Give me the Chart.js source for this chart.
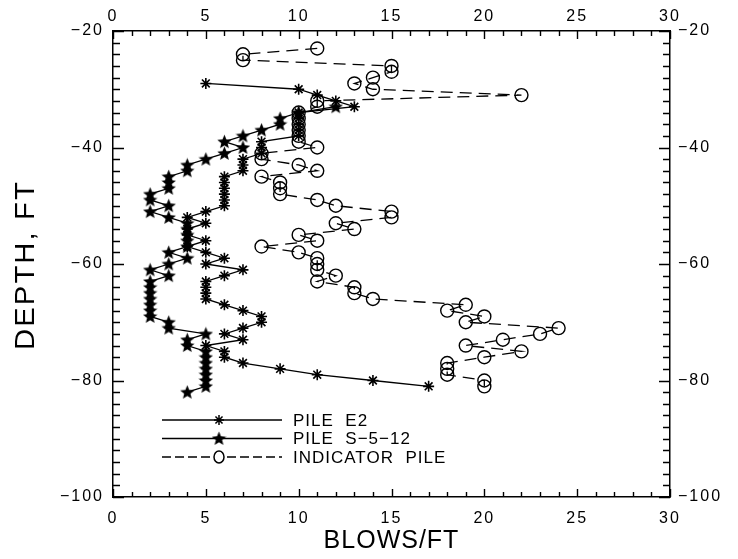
<!DOCTYPE html>
<html>
<head>
<meta charset="utf-8">
<script src="https://cdn.jsdelivr.net/npm/chart.js@4.4.1/dist/chart.umd.min.js"></script>
<style>
  html, body { margin: 0; padding: 0; background: #fff; }
  #c { display: block; }
</style>
</head>
<body>
<canvas id="c" width="738" height="559"></canvas>
<script>
// Blow counts (blows per foot) against depth (ft) for three piles.
const depthE2 = [-29,-30,-31,-32,-33,-34,-35,-36,-37,-38,-39,-40,-41,-42,-43,-44,-45,-46,-47,-48,-49,-50,-51,-52,-53,-54,-55,-56,-57,-58,-59,-60,-61,-62,-63,-64,-65,-66,-67,-68,-69,-70,-71,-72,-73,-74,-75,-76,-77,-78,-79,-80,-81];
const blowsE2 = [5,10,11,12,13, 10,10,10,10,10, 8,8,8,7,7, 7,6,6,6,6, 6,6,5,4,5, 4,4,5,4,5, 6,5,7,6,5, 5,5,5,6,7, 8,8,7,6,7, 5,6,6,7,9, 11,14,17];

const depthS512 = [-33,-34,-35,-36,-37,-38,-39,-40,-41,-42,-43,-44,-45,-46,-47,-48,-49,-50,-51,-52,-53,-54,-55,-56,-57,-58,-59,-60,-61,-62,-63,-64,-65,-66,-67,-68,-69,-70,-71,-72,-73,-74,-75,-76,-77,-78,-79,-80,-81,-82];
const blowsS512 = [12,10,9,9,8, 7,6,7,6,5, 4,4,3,3,3, 2,2,3,2,3, 4,4,4,4,4, 3,4,3,2,3, 2,2,2,2,2, 2,2,3,3,5, 4,4,5,5,5, 5,5,5,5,4];

const depthIndicator = [-23,-24,-25,-26,-27,-28,-29,-30,-31,-32,-33,-34,-35,-36,-37,-38,-39,-40,-41,-42,-43,-44,-45,-46,-47,-48,-49,-50,-51,-52,-53,-54,-55,-56,-57,-58,-59,-60,-61,-62,-63,-64,-65,-66,-67,-68,-69,-70,-71,-72,-73,-74,-75,-76,-77,-78,-79,-80,-81];
const blowsIndicator = [11,7,7,15,15, 14,13,14,22,11, 11,10,10,10,10, 10,10,11,8,8, 10,11,8,9,9, 9,11,12,15,15, 12,13,10,11,8, 10,11,11,11,12, 11,13,13,14,19, 18,20,19,24,23, 21,19,22,20,18, 18,18,20,20];

const seriesNames = ['PILE  E2', 'PILE  S\u22125\u221212', 'INDICATOR  PILE'];
const blowsTicks = [0, 5, 10, 15, 20, 25, 30];
const depthTicks = [-20, -40, -60, -80, -100];

const toPoints = (xs, ys) => xs.map((x, i) => ({ x: x, y: ys[i] }));
const minusSign = v => (v < 0 ? '\u2212' + Math.abs(v) : String(v));

// Solid five-pointed star used for the S-5-12 pile.
function solidStar(size) {
  const c = document.createElement('canvas');
  c.width = c.height = size;
  const g = c.getContext('2d');
  g.fillStyle = '#000';
  g.beginPath();
  for (let i = 0; i < 10; i++) {
    const r = i % 2 ? size * 0.22 : size * 0.5;
    const a = -Math.PI / 2 + i * Math.PI / 5;
    g.lineTo(size / 2 + r * Math.cos(a), size / 2 + 0.5 + r * Math.sin(a));
  }
  g.closePath();
  g.fill();
  return c;
}
const starImg = solidStar(15);

const FONT = '"Liberation Sans", Arial, sans-serif';
const tickFont = { family: FONT, size: 16 };

// Inward-pointing major and minor tick marks on all four sides.
const inwardTicks = {
  id: 'inwardTicks',
  afterDatasetsDraw(chart) {
    const { ctx, chartArea: a } = chart;
    const xs = chart.scales.x, ys = chart.scales.y;
    ctx.save();
    ctx.strokeStyle = '#000';
    ctx.lineWidth = 1.4;
    ctx.beginPath();
    for (let v = xs.min; v <= xs.max; v += 1) {
      const px = Math.round(xs.getPixelForValue(v)) + 0.5;
      const len = v % 5 === 0 ? 8 : 5;
      ctx.moveTo(px, a.bottom); ctx.lineTo(px, a.bottom - len);
      ctx.moveTo(px, a.top); ctx.lineTo(px, a.top + len);
    }
    for (let v = ys.min; v <= ys.max; v += 2) {
      const py = Math.round(ys.getPixelForValue(v)) + 0.5;
      const len = v % 20 === 0 ? 11 : 7;
      ctx.moveTo(a.left, py); ctx.lineTo(a.left + len, py);
      ctx.moveTo(a.right, py); ctx.lineTo(a.right - len, py);
    }
    ctx.stroke();
    ctx.restore();
  }
};

// Wide letter spacing for the tick labels.
const spacedLabels = {
  id: 'spacedLabels',
  beforeDraw(chart) { chart.ctx.letterSpacing = '2px'; },
  afterDraw(chart) { chart.ctx.letterSpacing = '0px'; }
};

// Axis titles and the legend drawn inside the plot.
const titlesAndLegend = {
  id: 'titlesAndLegend',
  afterDraw(chart) {
    const { ctx, chartArea: a } = chart;
    ctx.save();
    ctx.fillStyle = '#000';
    ctx.textBaseline = 'middle';

    ctx.font = '25px ' + FONT;
    ctx.letterSpacing = '1px';
    ctx.textAlign = 'center';
    ctx.fillText('BLOWS/FT', (a.left + a.right) / 2, 541);

    ctx.save();
    ctx.translate(27, (a.top + a.bottom) / 2 + 1);
    ctx.rotate(-Math.PI / 2);
    ctx.scale(1.08, 1);
    ctx.font = '27px ' + FONT;
    ctx.letterSpacing = '2px';
    ctx.fillText('DEPTH, FT', 0, 0);
    ctx.restore();

    const rows = [420, 438.5, 457];
    const x0 = 162, x1 = 282, xm = 219;
    ctx.letterSpacing = '1px';
    ctx.font = '17px ' + FONT;
    ctx.textAlign = 'left';
    chart.data.datasets.forEach((ds, i) => {
      const y = rows[i];
      ctx.save();
      ctx.strokeStyle = '#000';
      ctx.lineWidth = 1.5;
      ctx.beginPath();
      if (ds.borderDash) {
        ctx.setLineDash([9, 4]);
        ctx.moveTo(x0, y); ctx.lineTo(xm - 8, y);
        ctx.moveTo(xm + 8, y); ctx.lineTo(x1, y);
      } else {
        ctx.moveTo(x0, y); ctx.lineTo(x1, y);
      }
      ctx.stroke();
      ctx.setLineDash([]);
      if (ds.pointStyle === 'star') {
        ctx.beginPath();
        for (let k = 0; k < 4; k++) {
          const ang = k * Math.PI / 4;
          ctx.moveTo(xm - 5 * Math.cos(ang), y - 5 * Math.sin(ang));
          ctx.lineTo(xm + 5 * Math.cos(ang), y + 5 * Math.sin(ang));
        }
        ctx.stroke();
      } else if (ds.pointStyle === 'circle') {
        ctx.beginPath();
        ctx.ellipse(xm, y, 5, 6, 0, 0, Math.PI * 2);
        ctx.stroke();
      } else {
        ctx.drawImage(ds.pointStyle, xm - 7.5, y - 7.5);
      }
      ctx.restore();
      ctx.fillText(ds.label, 293, y + 1);
    });
    ctx.restore();
  }
};

const fixedSize = (w, h) => s => { if (w !== null) s.width = w; if (h !== null) s.height = h; };

new Chart(document.getElementById('c'), {
  type: 'scatter',
  data: {
    datasets: [
      {
        label: seriesNames[0],
        data: toPoints(blowsE2, depthE2),
        showLine: true,
        borderColor: '#000',
        borderWidth: 1.3,
        pointStyle: 'star',
        pointRadius: 5.5,
        pointBorderWidth: 1.6,
        pointBorderColor: '#000',
        pointBackgroundColor: '#000'
      },
      {
        label: seriesNames[1],
        data: toPoints(blowsS512, depthS512),
        showLine: true,
        borderColor: '#000',
        borderWidth: 1.3,
        pointStyle: starImg,
        pointRadius: 7
      },
      {
        label: seriesNames[2],
        data: toPoints(blowsIndicator, depthIndicator),
        showLine: true,
        borderColor: '#000',
        borderWidth: 1.3,
        borderDash: [12, 7],
        pointStyle: 'circle',
        pointRadius: 6.5,
        pointBorderWidth: 1.4,
        pointBorderColor: '#000',
        pointBackgroundColor: 'rgba(0,0,0,0)'
      }
    ]
  },
  options: {
    responsive: false,
    animation: false,
    devicePixelRatio: 1,
    layout: { padding: 0, autoPadding: false },
    plugins: { legend: { display: false }, tooltip: { enabled: false } },
    scales: {
      x: {
        type: 'linear', position: 'bottom', min: 0, max: 30,
        afterBuildTicks: s => { s.ticks = blowsTicks.map(v => ({ value: v })); },
        afterFit: fixedSize(null, 62),
        grid: { display: false, drawTicks: false },
        border: { display: true, color: '#000', width: 1.5 },
        ticks: { font: tickFont, color: '#000', padding: 12, maxRotation: 0, callback: v => minusSign(v) }
      },
      xTop: {
        type: 'linear', position: 'top', min: 0, max: 30,
        afterBuildTicks: s => { s.ticks = blowsTicks.map(v => ({ value: v })); },
        afterFit: fixedSize(null, 31),
        grid: { display: false, drawTicks: false },
        border: { display: true, color: '#000', width: 1.5 },
        ticks: { font: tickFont, color: '#000', padding: 5, maxRotation: 0, callback: v => minusSign(v) }
      },
      y: {
        type: 'linear', position: 'left', min: -100, max: -20,
        afterBuildTicks: s => { s.ticks = depthTicks.map(v => ({ value: v })); },
        afterFit: fixedSize(113, null),
        grid: { display: false, drawTicks: false },
        border: { display: true, color: '#000', width: 1.5 },
        ticks: { font: tickFont, color: '#000', padding: 9, callback: v => minusSign(v) }
      },
      yRight: {
        type: 'linear', position: 'right', min: -100, max: -20,
        afterBuildTicks: s => { s.ticks = depthTicks.map(v => ({ value: v })); },
        afterFit: fixedSize(68, null),
        grid: { display: false, drawTicks: false },
        border: { display: true, color: '#000', width: 1.5 },
        ticks: { font: tickFont, color: '#000', padding: 8, callback: v => minusSign(v) }
      }
    }
  },
  plugins: [spacedLabels, inwardTicks, titlesAndLegend]
});
</script>
</body>
</html>
